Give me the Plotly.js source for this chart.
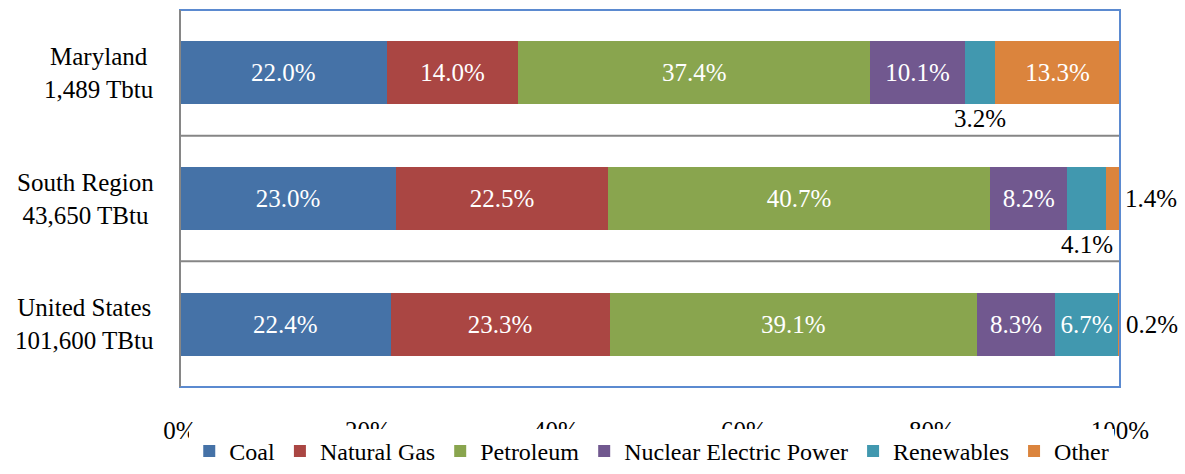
<!DOCTYPE html>
<html><head><meta charset="utf-8">
<script src="https://cdn.plot.ly/plotly-3.0.1.min.js"></script>
<style>html,body{margin:0;padding:0;background:#fff}</style>
</head><body><div id="chart" style="width:1185px;height:474px"></div>
<script>
const categories = ['Maryland', 'South Region', 'United States'];
const totals = ['1,489 Tbtu', '43,650 TBtu', '101,600 TBtu'];
const coal = [22.0, 23.0, 22.4];
const naturalGas = [14.0, 22.5, 23.3];
const petroleum = [37.4, 40.7, 39.1];
const nuclear = [10.1, 8.2, 8.3];
const renewables = [3.2, 4.1, 6.7];
const other = [13.3, 1.4, 0.2];
const seriesNames = ['Coal', 'Natural Gas', 'Petroleum', 'Nuclear Electric Power', 'Renewables', 'Other'];
const xTicks = [0, 20, 40, 60, 80, 100];

const series = [coal, naturalGas, petroleum, nuclear, renewables, other];
const colors = ['#4572A7', '#AA4643', '#89A54E', '#71588F', '#4198AF', '#DB843D'];
const FONT = 'serif';
const FS = 25;
const INSIDE_MIN = 5;

const fmt = v => v.toFixed(1) + '%';
const r1 = v => Math.round(v * 10) / 10;

const traces = series.map((vals, i) => ({
  type: 'bar',
  orientation: 'h',
  name: seriesNames[i],
  y: categories,
  x: vals,
  marker: {color: colors[i], line: {width: 0}},
  text: vals.map(v => v >= INSIDE_MIN ? fmt(v) : ''),
  textposition: 'inside',
  insidetextanchor: 'middle',
  constraintext: 'none',
  textfont: {family: FONT, size: FS, color: '#ffffff'},
  hoverinfo: 'skip'
}));

const annotations = [];
categories.forEach((c, j) => {
  annotations.push({
    xref: 'paper', yref: 'y', x: 0, y: c, xanchor: 'right', yanchor: 'middle',
    xshift: -24, align: 'center', showarrow: false,
    text: c + '<br>' + totals[j],
    font: {family: FONT, size: FS, color: '#000000'}
  });
});
categories.forEach((c, j) => {
  let cum = 0;
  series.forEach((vals, i) => {
    const v = vals[j];
    const start = r1(cum);
    cum = r1(cum + v);
    if (v >= INSIDE_MIN) return;
    const last = i === series.length - 1;
    if (last) {
      annotations.push({
        xref: 'x', yref: 'y', x: cum, y: c, xanchor: 'left', yanchor: 'middle',
        xshift: 4, showarrow: false, text: fmt(v),
        font: {family: FONT, size: FS, color: '#000000'}
      });
    } else {
      annotations.push({
        xref: 'x', yref: 'y', x: start + v / 2, y: c, xanchor: 'center', yanchor: 'middle',
        yshift: -46, showarrow: false, text: fmt(v),
        font: {family: FONT, size: FS, color: '#000000'}
      });
    }
  });
});

const shapes = [];
for (let k = 0; k < categories.length - 1; k++) {
  shapes.push({type: 'line', xref: 'paper', yref: 'y', x0: 0, x1: 1, y0: k + 0.5, y1: k + 0.5,
    line: {color: '#868686', width: 2}, layer: 'below'});
}
shapes.push({type: 'rect', xref: 'paper', yref: 'paper', x0: 0, x1: 1, y0: 0, y1: 1,
  line: {color: '#5B8AD0', width: 2}, layer: 'above'});
shapes.push({type: 'line', xref: 'paper', yref: 'paper', x0: 0, x1: 0, y0: 0, y1: 1,
  line: {color: '#868686', width: 2}, layer: 'above'});

const layout = {
  width: 1185, height: 474,
  margin: {l: 180, r: 65, t: 10, b: 87, autoexpand: false},
  paper_bgcolor: '#fff', plot_bgcolor: '#fff',
  barmode: 'stack',
  bargap: 0.5,
  xaxis: {
    range: [0, 100], tickvals: xTicks, ticktext: xTicks.map(t => t + '%'),
    showgrid: false, zeroline: false, showline: false,
    ticks: '', ticklabelstandoff: 26,
    tickfont: {family: FONT, size: FS, color: '#000000'},
    fixedrange: true
  },
  yaxis: {
    type: 'category', categoryorder: 'array', categoryarray: categories,
    range: [categories.length - 0.5, -0.5],
    showgrid: false, zeroline: false, showline: false, showticklabels: false, ticks: '',
    fixedrange: true
  },
  showlegend: true,
  legend: {
    orientation: 'h', x: 0.55, xanchor: 'center', xref: 'container',
    y: 0, yanchor: 'bottom', yref: 'container',
    font: {family: FONT, size: 24, color: '#000000'},
    traceorder: 'normal'
  },
  annotations: annotations,
  shapes: shapes
};

Plotly.newPlot('chart', traces, layout, {staticPlot: true});
</script>
</body></html>
